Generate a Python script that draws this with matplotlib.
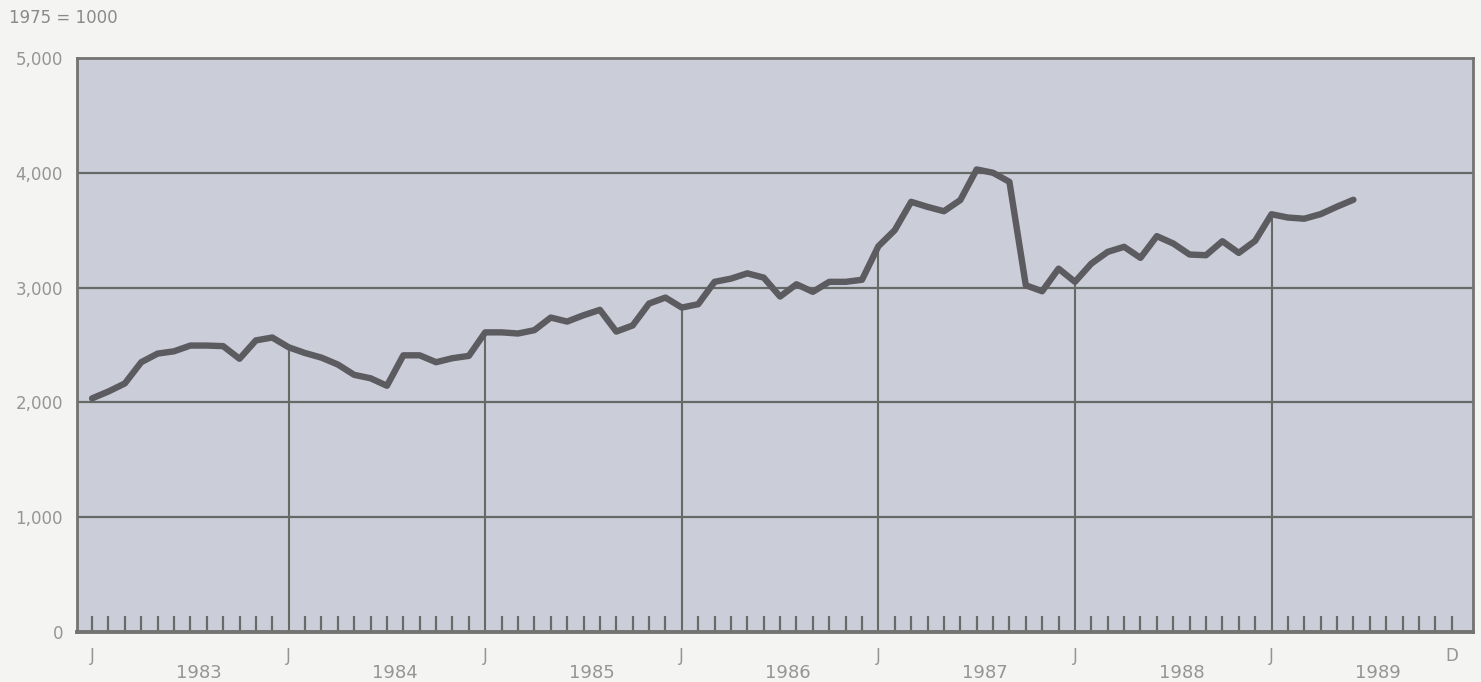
import numpy as np
import matplotlib.pyplot as plt

# index, 1975 = 1000, monthly from Jan 1983
values = [
    2035, 2095, 2165, 2350, 2425, 2445, 2495, 2495, 2490, 2380, 2540, 2565,  # 1983
    2480, 2430, 2390, 2330, 2240, 2210, 2145, 2410, 2410, 2350, 2385, 2405,  # 1984
    2610, 2610, 2600, 2629, 2739, 2704, 2759, 2806, 2617, 2670, 2861, 2913,  # 1985
    2826, 2855, 3050, 3078, 3124, 3087, 2922, 3029, 2963, 3050, 3050, 3068,  # 1986
    3360, 3500, 3747, 3703, 3665, 3762, 4029, 4000, 3921, 3020, 2968, 3165,  # 1987
    3050, 3209, 3311, 3355, 3259, 3448, 3384, 3288, 3282, 3404, 3302, 3407,  # 1988
    3639, 3610, 3600, 3640, 3705, 3765,                                      # 1989
]
years = ['1983', '1984', '1985', '1986', '1987', '1988', '1989']
y_ticks = [0, 1000, 2000, 3000, 4000, 5000]
y_labels = ['0', '1,000', '2,000', '3,000', '4,000', '5,000']

months = np.arange(len(values))
vals = np.array(values)
jan = np.arange(12, len(values), 12)

text_col = '#959595'
grid_col = '#666a64'

fig = plt.figure(figsize=(14.81, 6.82), dpi=100, facecolor='#f4f4f2')
ax = fig.add_axes([0.052, 0.0733, 0.9426, 0.8417])
ax.set_facecolor('#cbcdd9')

ax.set_xlim(-0.92, 84.3)
ax.set_ylim(0, 5000)

# horizontal grid
for yv in y_ticks[1:-1]:
    ax.axhline(yv, color=grid_col, lw=1.6, zorder=1)

# January drop lines
ax.vlines(jan, 0, vals[jan], color=grid_col, lw=1.5, zorder=1)

ax.plot(months, vals, color='#5c5b60', lw=4.6, solid_joinstyle='round',
        solid_capstyle='round', zorder=3)

for s in ax.spines.values():
    s.set_color('#737371')
    s.set_linewidth(2)
ax.spines['bottom'].set_linewidth(2.8)

ax.set_yticks(y_ticks)
ax.set_yticklabels(y_labels, color=text_col, fontsize=12)
ax.tick_params(axis='y', length=0, pad=10)

# month tick marks (every month except the January drop lines)
trans = ax.get_xaxis_transform()
minor = [m for m in range(84) if m == 0 or m % 12 != 0]
ax.vlines(minor, 0, 0.028, transform=trans, color='#6a6a68', lw=1.6, zorder=2)

major = [0, 12, 24, 36, 48, 60, 72, 83]
ax.set_xticks(major)
ax.set_xticklabels(['J'] * 7 + ['D'], color=text_col, fontsize=12)
ax.tick_params(axis='x', length=0, pad=11)

for k, yr in enumerate(years):
    ax.text(12 * k + 6.5, -0.072, yr, transform=trans, ha='center', va='center',
            color=text_col, fontsize=13)

fig.text(0.006, 0.973, '1975 = 1000', ha='left', va='center', color='#8a8a8a',
         fontsize=12)

fig.savefig('out.png', dpi=100, facecolor=fig.get_facecolor())
